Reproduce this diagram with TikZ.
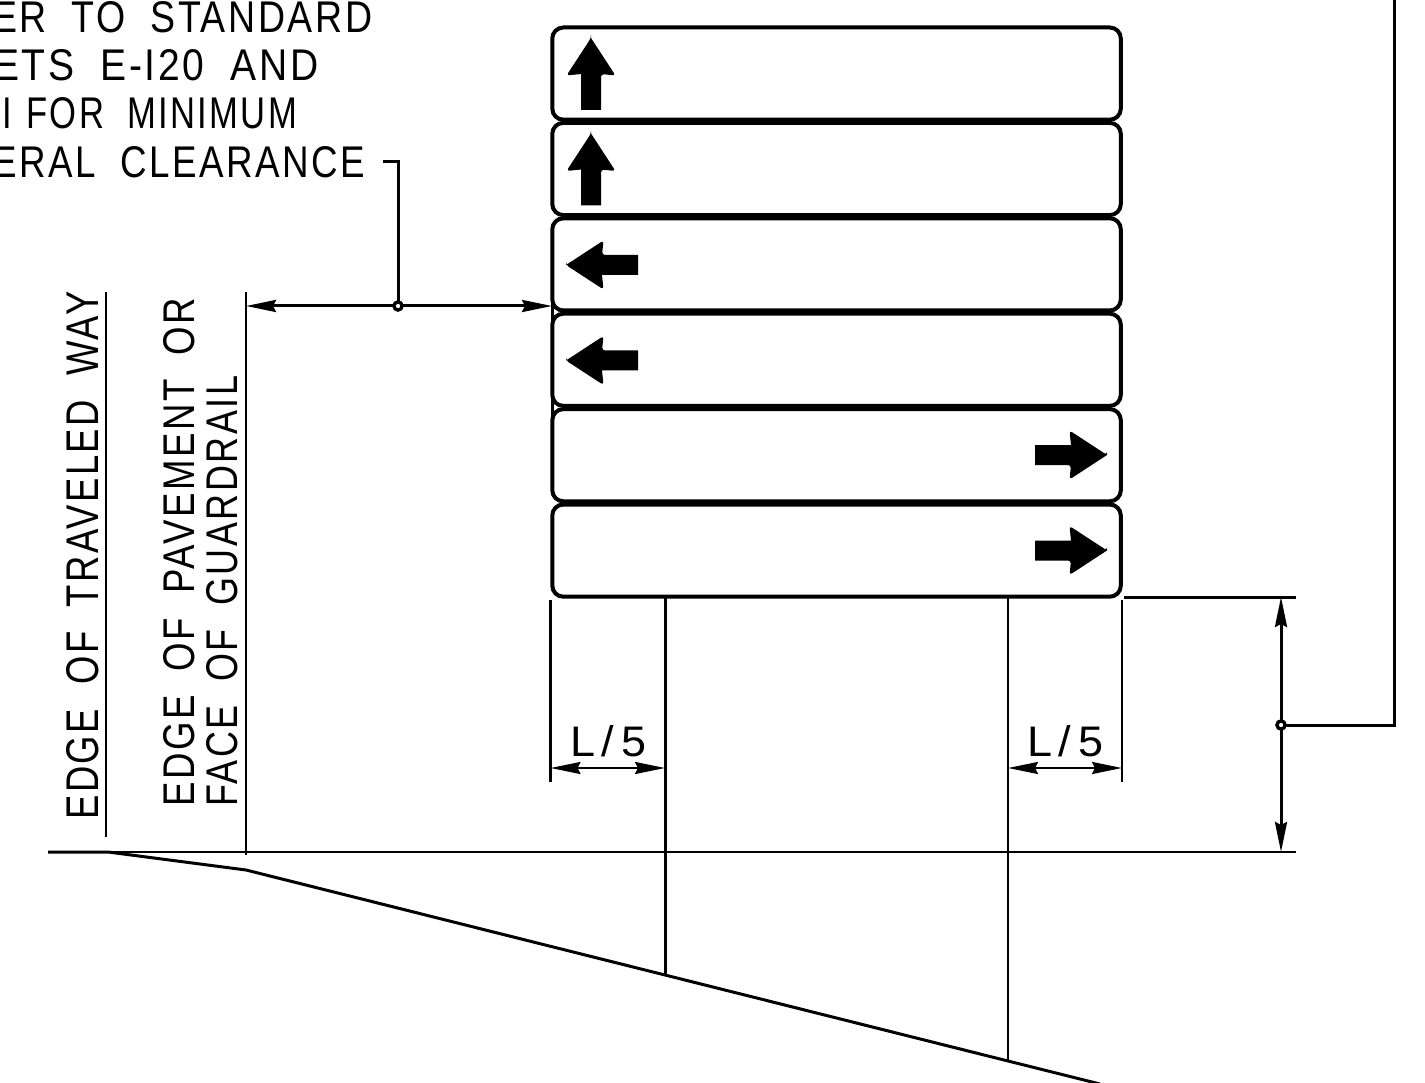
\documentclass[tikz,border=0pt]{standalone}
\usepackage{fontspec}
\usetikzlibrary{arrows.meta}
\newfontfamily\cadfont[LetterSpace=7,WordSpace=1.9]{Liberation Sans}
\newcommand{\cadtxt}[3]{\resizebox{#1pt}{#2pt}{\cadfont #3}}
\newcommand{\upsign}[3]{%
  \begin{scope}[shift={(#1,#2)},rotate=#3]
    \fill (0,0) [rounded corners=3pt] -- (24.5,37.5) -- (10,36) [sharp corners] -- (10,72) -- (-10,72) -- (-10,36) [rounded corners=3pt] -- (-24.5,37.5) -- (0,0) [sharp corners] -- cycle;
  \end{scope}}
\tikzset{
  thinline/.style={line width=2.4pt,line cap=butt},
  heavyline/.style={line width=3pt},
  signbox/.style={draw,line width=4pt,rounded corners=11pt,minimum width=568.5pt,minimum height=92.2pt,inner sep=0pt,outer sep=0pt,anchor=north west},
  dimtips/.style={{Stealth[length=30pt,width=12pt,inset=3pt]}-{Stealth[length=30pt,width=12pt,inset=3pt]}},
  dotmark/.style={circle,draw,line width=3.2pt,minimum size=8pt,inner sep=0pt,outer sep=0pt,fill=white},
  txt/.style={inner sep=0pt,text=black}
}
\begin{document}
\begin{tikzpicture}[x=1pt,y=-1pt]
\useasboundingbox (0,0) rectangle (1425,1083);
\clip (0,0) rectangle (1425,1083);
\fill[white] (0,0) rectangle (1425,1083);
% signs
\node[signbox] (s1) at (552.3,27.5) {};
\node[signbox] (s2) at (552.3,122.9) {};
\node[signbox] (s3) at (552.3,218.3) {};
\node[signbox] (s4) at (552.3,313.7) {};
\node[signbox] (s5) at (552.3,409.1) {};
\node[signbox] (s6) at (552.3,504.5) {};
% sign arrows
\upsign{591}{38}{0}
\upsign{591}{133.5}{0}
\upsign{566}{265}{90}
\upsign{566}{360.5}{90}
\upsign{1107}{455}{-90}
\upsign{1107}{550.5}{-90}
% coordinates
\coordinate (la) at (383,162);
\coordinate (lb) at (398,162);
\node[dotmark] (d1) at (398,306) {};
\coordinate (f1) at (246,306);
\coordinate (f2) at (552,306);
\coordinate (e1t) at (106,292);
\coordinate (e1b) at (106,837);
\coordinate (e2t) at (246,292);
\coordinate (e2b) at (246,855);
\coordinate (h1) at (48,852);
\coordinate (h2) at (1296,852);
\coordinate (g1) at (108,852);
\coordinate (g2) at (246,870);
\coordinate (g3) at (665,975);
\coordinate (g4) at (1008,1061);
\coordinate (g5) at (1100,1084);
\coordinate (p1) at (665,597);
\coordinate (p2) at (1008,597);
\coordinate (x1t) at (550.5,600);
\coordinate (x1b) at (550.5,782);
\coordinate (x2t) at (1122,600);
\coordinate (x2b) at (1122,782);
\coordinate (a1) at (550.5,768);
\coordinate (a2) at (665,768);
\coordinate (b1) at (1008,768);
\coordinate (b2) at (1122,768);
\coordinate (t1) at (1124,597);
\coordinate (t2) at (1296,597);
\coordinate (v1) at (1281,597);
\coordinate (v2) at (1281,852);
\node[dotmark] (d2) at (1281,725) {};
\coordinate (r1) at (1394,725);
\coordinate (r2) at (1394,0);
\coordinate (w1) at (552,292);
\coordinate (w2) at (552,415);
% lines
\draw[heavyline] (w1) -- (w2);
\draw[heavyline] (la) -- (lb) -- (d1);
\draw[heavyline,dimtips] (f1) -- (f2);
\draw[thinline] (e1t) -- (e1b);
\draw[thinline] (e2t) -- (e2b);
\draw[thinline] (h1) -- (h2);
\draw[heavyline] (h1) -- (g1) -- (g2) -- (g3) -- (g4) -- (g5);
\draw[heavyline] (p1) -- (g3);
\draw[thinline] (p2) -- (g4);
\draw[thinline] (x1t) -- (x1b);
\draw[thinline] (x2t) -- (x2b);
\draw[thinline,dimtips] (a1) -- (a2);
\draw[thinline,dimtips] (b1) -- (b2);
\draw[heavyline] (t1) -- (t2);
\draw[heavyline,dimtips] (v1) -- (v2);
\draw[heavyline] (d2) -- (r1) -- (r2);
\node[dotmark] at (d1) {};
\node[dotmark] at (d2) {};
% texts
\node[txt,anchor=base west] (n1) at (-8,33) {\cadtxt{380}{31}{ER TO STANDARD}};
\node[txt,anchor=base west] (n2) at (-7,81) {\cadtxt{325}{31}{ETS E-I20 AND}};
\node[txt,anchor=base west] (n3) at (2,129) {\cadtxt{295}{31}{I\hspace{.42em}FOR MINIMUM}};
\node[txt,anchor=base west] (n4) at (-8,178) {\cadtxt{373}{31}{ERAL CLEARANCE}};
\node[txt,anchor=base west,rotate=90] (n5) at (98,820) {\cadtxt{528}{32}{EDGE OF TRAVELED WAY}};
\node[txt,anchor=base west,rotate=90] (n6) at (194,807) {\cadtxt{509}{31}{EDGE OF PAVEMENT OR}};
\node[txt,anchor=base west,rotate=90] (n7) at (237,807) {\cadtxt{431}{31}{FACE OF GUARDRAIL}};
\node[txt,anchor=base west] (n8) at (570,756) {\cadtxt{76}{31}{L\hspace{.15em}/\hspace{.15em}5}};
\node[txt,anchor=base west] (n9) at (1027,756) {\cadtxt{76}{31}{L\hspace{.15em}/\hspace{.15em}5}};
\end{tikzpicture}
\end{document}
